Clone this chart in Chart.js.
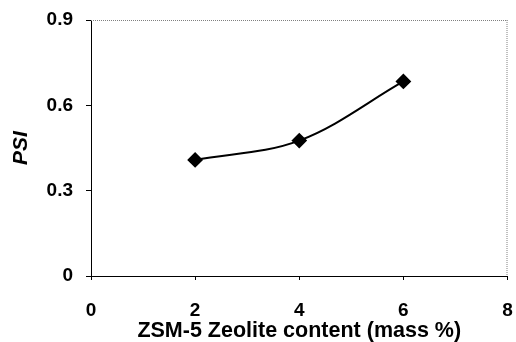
<!DOCTYPE html>
<html>
<head>
<meta charset="utf-8">
<script src="https://cdn.jsdelivr.net/npm/chart.js@4"></script>
<style>
  html, body { margin: 0; padding: 0; background: #fff; }
  #wrap { width: 516px; height: 342px; }
</style>
</head>
<body>
<div id="wrap"><canvas id="psiChart" width="516" height="342"></canvas></div>
<script>
// values
const zeoliteContent = [2, 4, 6];
const psiValues = [0.408, 0.476, 0.684];
const xTicks = [0, 2, 4, 6, 8];
const yTicks = [0, 0.3, 0.6, 0.9];
const xTitle = 'ZSM-5 Zeolite content (mass %)';
const yTitle = 'PSI';

const FONT = '"Liberation Sans", Arial, sans-serif';

// dotted frame on top and right, like the original
const framePlugin = {
    id: 'frame',
    afterDraw(chart) {
        const { ctx, chartArea: a } = chart;
        ctx.save();
        ctx.strokeStyle = '#808080';
        ctx.lineWidth = 1;
        ctx.setLineDash([1, 1]);
        ctx.beginPath();
        ctx.moveTo(a.left, a.top + 0.5);
        ctx.lineTo(a.right, a.top + 0.5);
        ctx.moveTo(a.right - 0.5, a.top);
        ctx.lineTo(a.right - 0.5, a.bottom);
        ctx.stroke();
        ctx.restore();
    }
};

const ctx = document.getElementById('psiChart').getContext('2d');

new Chart(ctx, {
    type: 'line',
    data: {
        datasets: [{
            data: zeoliteContent.map((x, i) => ({ x: x, y: psiValues[i] })),
            borderColor: '#000',
            backgroundColor: '#000',
            borderWidth: 2,
            tension: 0.35,
            pointStyle: 'rectRot',
            pointRadius: 6.5,
            pointHoverRadius: 6.5,
            fill: false
        }]
    },
    options: {
        responsive: false,
        animation: false,
        layout: { padding: { left: 0, top: 20, right: 8, bottom: 0 } },
        plugins: {
            legend: { display: false },
            tooltip: { enabled: false }
        },
        scales: {
            x: {
                type: 'linear',
                min: xTicks[0],
                max: xTicks[xTicks.length - 1],
                afterBuildTicks: axis => { axis.ticks = xTicks.map(v => ({ value: v })); },
                afterFit: axis => {
                    axis.height = 66;
                    axis.paddingLeft = 0;
                    axis.paddingRight = 0;
                },
                border: { color: '#000', width: 1 },
                grid: { drawOnChartArea: false, color: '#000', tickLength: 4 },
                ticks: {
                    color: '#000',
                    padding: 19,
                    maxRotation: 0,
                    font: { family: FONT, size: 19, weight: 'bold' },
                    callback: v => String(v)
                },
                title: {
                    display: true,
                    text: xTitle,
                    color: '#000',
                    padding: { top: 0, bottom: -2 },
                    font: { family: FONT, size: 21.5, weight: 'bold' }
                }
            },
            y: {
                type: 'linear',
                min: yTicks[0],
                max: yTicks[yTicks.length - 1],
                afterBuildTicks: axis => { axis.ticks = yTicks.map(v => ({ value: v })); },
                afterFit: axis => {
                    axis.width = 91;
                    axis.paddingTop = 0;
                    axis.paddingBottom = 0;
                },
                border: { color: '#000', width: 1 },
                grid: { drawOnChartArea: false, color: '#000', tickLength: 5 },
                ticks: {
                    color: '#000',
                    padding: 13,
                    font: { family: FONT, size: 19, weight: 'bold' },
                    callback: v => yTicks.find(t => Math.abs(t - v) < 1e-9).toString()
                },
                title: {
                    display: true,
                    text: yTitle,
                    color: '#000',
                    padding: { top: 9, bottom: 0 },
                    font: { family: FONT, size: 21, weight: 'bold', style: 'italic' }
                }
            }
        }
    },
    plugins: [framePlugin]
});
</script>
</body>
</html>
